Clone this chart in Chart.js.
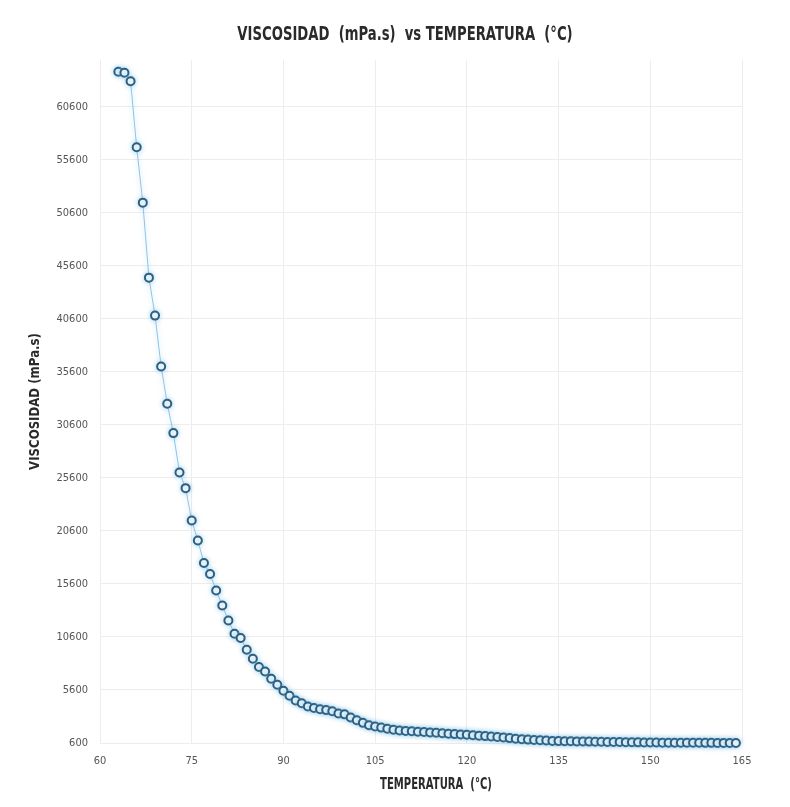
<!DOCTYPE html>
<html>
<head>
<meta charset="utf-8">
<title>Viscosidad vs Temperatura</title>
<script src="https://cdn.jsdelivr.net/npm/chart.js@4.4.1/dist/chart.umd.min.js"></script>
<style>
  html, body { margin: 0; padding: 0; background: #ffffff; }
  canvas { display: block; }
</style>
</head>
<body>
<canvas id="chart" width="790" height="807"></canvas>
<script>
// Temperatura (°C) de cada medición
const temperaturas = [
  63, 64, 65, 66, 67, 68, 69, 70, 71, 72, 73, 74, 75, 76, 77, 78, 79, 80,
  81, 82, 83, 84, 85, 86, 87, 88, 89, 90, 91, 92, 93, 94, 95, 96, 97, 98,
  99, 100, 101, 102, 103, 104, 105, 106, 107, 108, 109, 110, 111, 112, 113, 114,
  115, 116, 117, 118, 119, 120, 121, 122, 123, 124, 125, 126, 127, 128, 129, 130,
  131, 132, 133, 134, 135, 136, 137, 138, 139, 140, 141, 142, 143, 144, 145, 146,
  147, 148, 149, 150, 151, 152, 153, 154, 155, 156, 157, 158, 159, 160, 161, 162,
  163, 164
];

// Viscosidad (mPa.s) medida a cada temperatura
const viscosidades = [
  63900, 63800, 63000, 56770, 51550, 44480, 40900, 36100, 32580, 29820, 26100, 24630,
  21580, 19700, 17570, 16530, 14980, 13570, 12150, 10900, 10500, 9390, 8550, 7760,
  7350, 6660, 6100, 5530, 5060, 4615, 4350, 4050, 3900, 3780, 3700, 3600,
  3380, 3300, 3000, 2750, 2500, 2280, 2150, 2050, 1950, 1850, 1780, 1740,
  1700, 1660, 1630, 1600, 1560, 1520, 1480, 1440, 1400, 1370, 1330, 1290,
  1250, 1210, 1170, 1120, 1060, 1000, 960, 920, 890, 860, 830, 800,
  780, 770, 760, 750, 740, 730, 720, 710, 700, 690, 690, 680,
  670, 660, 650, 640, 640, 635, 630, 630, 625, 625, 620, 620,
  615, 615, 610, 610, 605, 605
];

// Marcas de los ejes
const ticksX = [60, 75, 90, 105, 120, 135, 150, 165];
const ticksY = [600, 5600, 10600, 15600, 20600, 25600, 30600, 35600, 40600, 45600, 50600, 55600, 60600];

// Textos del gráfico
const tituloGrafico = 'VISCOSIDAD  (mPa.s)  vs TEMPERATURA  (°C)';
const tituloEjeX = 'TEMPERATURA  (°C)';
const tituloEjeY = 'VISCOSIDAD (mPa.s)';

const puntos = temperaturas.map((t, i) => ({ x: t, y: viscosidades[i] }));

const narrow = '"DejaVu Sans Condensed", "DejaVu Sans", sans-serif';

// Texto en negrita comprimido horizontalmente (estilo rótulo estrecho)
function textoEstrecho(ctx, text, x, y, size, sx, rot) {
  ctx.save();
  ctx.translate(x, y);
  ctx.rotate(rot);
  ctx.scale(sx, 1);
  ctx.font = 'bold ' + size + 'px "DejaVu Sans", sans-serif';
  ctx.fillStyle = '#2a2a2a';
  ctx.textAlign = 'center';
  ctx.textBaseline = 'middle';
  ctx.fillText(text, 0, 0);
  ctx.restore();
}

const titulosPlugin = {
  id: 'titulos',
  afterDraw(chart) {
    const ctx = chart.ctx;
    const area = chart.chartArea;
    textoEstrecho(ctx, tituloGrafico, 405, 35, 20, 0.66, 0);
    textoEstrecho(ctx, tituloEjeX, 436, 785, 15, 0.67, 0);
    textoEstrecho(ctx, tituloEjeY, 35, (area.top + area.bottom) / 2, 14, 0.84, -Math.PI / 2);
  }
};

// Halo azul suave alrededor de los marcadores
const haloPlugin = {
  id: 'halo',
  beforeDatasetDraw(chart) {
    const ctx = chart.ctx;
    ctx.save();
    ctx.shadowColor = 'rgba(110, 185, 230, 0.55)';
    ctx.shadowBlur = 5;
  },
  afterDatasetDraw(chart) {
    chart.ctx.restore();
  }
};

new Chart(document.getElementById('chart'), {
  type: 'line',
  data: {
    datasets: [{
      data: puntos,
      showLine: true,
      borderColor: '#8fc3e6',
      borderWidth: 1,
      pointRadius: 4,
      pointBorderWidth: 2,
      pointBorderColor: '#2e5f80',
      pointBackgroundColor: '#ffffff',
      tension: 0,
      clip: false
    }]
  },
  options: {
    responsive: false,
    animation: false,
    devicePixelRatio: 1,
    layout: { padding: { left: 0, right: 48, top: 60, bottom: 0 } },
    plugins: {
      legend: { display: false },
      tooltip: { enabled: false },
      title: { display: false }
    },
    scales: {
      x: {
        type: 'linear',
        min: 60,
        max: 165,
        afterBuildTicks(scale) { scale.ticks = ticksX.map(v => ({ value: v })); },
        afterFit(scale) { scale.height = 64; },
        grid: { color: '#ededed', lineWidth: 1, drawTicks: false },
        border: { display: false },
        ticks: {
          color: '#555555',
          padding: 12,
          maxRotation: 0,
          font: { family: narrow, size: 11 }
        }
      },
      y: {
        type: 'linear',
        min: 600,
        max: 65000,
        afterBuildTicks(scale) { scale.ticks = ticksY.map(v => ({ value: v })); },
        afterFit(scale) { scale.width = 100; },
        grid: { color: '#ededed', lineWidth: 1, drawTicks: false },
        border: { display: false },
        ticks: {
          color: '#555555',
          padding: 12,
          font: { family: narrow, size: 11 },
          callback: v => String(v)
        }
      }
    }
  },
  plugins: [haloPlugin, titulosPlugin]
});
</script>
</body>
</html>
